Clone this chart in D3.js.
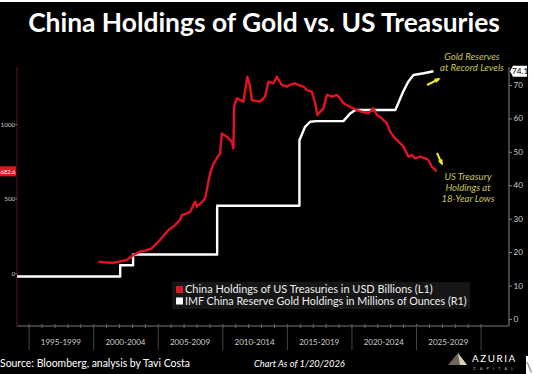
<!DOCTYPE html>
<html><head><meta charset="utf-8">
<script src="https://cdn.jsdelivr.net/npm/d3@7"></script>
<style>
html,body{margin:0;padding:0;background:#fff;}
svg{display:block;}
text{font-family:Lato, "Open Sans", sans-serif;}
</style></head>
<body>
<svg id="c" width="533" height="374"></svg>
<script>
// ---- data ----
const categories = ["1995-1999","2000-2004","2005-2009","2010-2014","2015-2019","2020-2024","2025-2029"];
const categoryStarts = [1995,2000,2005,2010,2015,2020,2025];
const leftTicks = [0,500,1000];
const rightTicks = [0,10,20,30,40,50,60,70];

// China holdings of US Treasuries, USD billions (left axis)
const treasuryDates = [2000.40,2001.00,2001.57,2002.10,2002.60,2003.12,2003.63,2004.10,2004.54,2005.05,2005.45,2005.83,2006.30,2006.73,2006.86,2007.20,2007.51,2007.89,2008.02,2008.35,2008.67,2009.05,2009.30,2009.57,2009.83,2009.96,2010.35,2010.73,2010.86,2010.91,2011.12,2011.40,2011.63,2011.94,2012.15,2012.28,2012.60,2012.93,2013.31,2013.57,2013.96,2014.22,2014.61,2014.99,2015.30,2015.64,2015.89,2016.28,2016.54,2016.93,2017.19,2017.36,2017.57,2017.83,2018.09,2018.48,2018.87,2019.12,2019.38,2019.90,2020.41,2020.80,2021.31,2021.70,2021.96,2022.35,2022.74,2022.99,2023.38,2023.77,2024.02,2024.41,2024.67,2024.93,2025.31,2025.70,2025.95,2026.22,2026.60];
const treasuryValues = [76,70,69,78,87,121,143,152,166,210,250,289,318,356,389,398,411,479,445,470,501,669,730,770,803,937,915,881,837,1116,1172,1160,1150,1317,1253,1161,1155,1150,1184,1284,1273,1317,1262,1251,1265,1273,1262,1251,1228,1217,1139,1060,1082,1105,1195,1184,1195,1172,1139,1116,1094,1082,1071,1105,1060,1038,1004,949,904,871,848,781,792,770,781,770,758,714,682.6];

// IMF China reserve gold holdings, million ounces (right axis)
const goldDates = [1994.1,2002.09,2002.09,2003.09,2003.09,2009.60,2009.60,2015.97,2015.97,2016.41,2016.80,2017.30,2019.38,2019.90,2020.30,2023.40,2024.00,2024.40,2024.80,2025.60,2026.35];
const goldValues = [12.7,12.7,16.1,16.1,19.3,19.3,33.9,33.9,53.5,57.5,59.0,59.2,59.2,61.5,62.5,62.5,68.0,71.0,73.0,73.5,74.1];

const legendLabels = ["China Holdings of US Treasuries in USD Billions (L1)","IMF China Reserve Gold Holdings in Millions of Ounces (R1)"];
const lastTreasury = "682.6";
const lastGold = "74.1";

// ---- drawing ----
const svg = d3.select("#c");
const RED = "#e3131f";
svg.append("rect").attr("x",0).attr("y",2).attr("width",528).attr("height",372).attr("fill","#000");
svg.append("rect").attr("x",526).attr("y",356).attr("width",7).attr("height",18).attr("fill","#fff");

const plot = {l:17, r:509, t:67, b:326};
const x = d3.scaleLinear().domain([1994.1,2032.2]).range([plot.l,plot.r]);
const yL = d3.scaleLinear().domain([0,1000]).range([273,124]);
const yR = d3.scaleLinear().domain([0,70]).range([319,85]);

function fit(sel, target){
  const fs = +sel.attr("font-size");
  const w = sel.node().getComputedTextLength();
  sel.attr("font-size", fs*target/w);
}

// title
const title = svg.append("text").attr("x",264).attr("y",32).attr("text-anchor","middle")
  .attr("fill","#fff").attr("font-weight","bold").attr("font-size",27)
  .text("China Holdings of Gold vs. US Treasuries");
fit(title,472);

// x axis
const xMinor = d3.axisBottom(x).tickValues(d3.range(1995,2031)).tickSize(2).tickFormat("");
const gxm = svg.append("g").attr("transform",`translate(0,${plot.b})`).call(xMinor);
gxm.select(".domain").attr("stroke","#777").attr("d",`M${plot.l},0H${plot.r}`);
gxm.selectAll(".tick line").attr("stroke","#666").attr("y1",-2).attr("y2",2);
const xMajor = d3.axisBottom(x).tickValues(d3.range(1995,2031,5)).tickSize(24).tickFormat("");
const gx = svg.append("g").attr("transform",`translate(0,${plot.b})`).call(xMajor);
gx.select(".domain").remove();
gx.selectAll(".tick line").attr("stroke","#444");
svg.append("g").selectAll("text").data(categories).join("text")
  .attr("x",(d,i)=>x(categoryStarts[i]+2.5)).attr("y",345)
  .attr("text-anchor","middle").attr("fill","#cfcfcf").attr("font-size",8)
  .text(d=>d);

// left axis
const yAxL = d3.axisLeft(yL).tickValues(leftTicks).tickFormat(d3.format("d")).tickSize(1.5).tickPadding(0.3);
const gl = svg.append("g").attr("transform",`translate(${plot.l},0)`).call(yAxL);
gl.select(".domain").attr("stroke","#5a1a1a").attr("d",`M0,${plot.t}V${plot.b}`);
gl.selectAll(".tick line").attr("stroke","#777");
gl.selectAll(".tick text").attr("fill","#cfcfcf").attr("font-size",6.3).attr("font-family","Lato, sans-serif");

// right axis
const yAxR = d3.axisRight(yR).tickValues(rightTicks).tickSize(3).tickPadding(1.5);
const gr = svg.append("g").attr("transform",`translate(${plot.r},0)`).call(yAxR);
gr.select(".domain").attr("stroke","#888").attr("d",`M0,${plot.t}V${plot.b}`);
gr.selectAll(".tick line").attr("stroke","#888");
gr.selectAll(".tick text").attr("fill","#cfcfcf").attr("font-size",8).attr("font-family","Lato, sans-serif");

// lines
const goldData = goldDates.map((d,i)=>[d,goldValues[i]]);
const tData = treasuryDates.map((d,i)=>[d,treasuryValues[i]]);
svg.append("path").datum(goldData).attr("fill","none").attr("stroke","#fff").attr("stroke-width",2.4)
  .attr("stroke-linejoin","round")
  .attr("d",d3.line().x(d=>x(d[0])).y(d=>yR(d[1])));
svg.append("path").datum(tData).attr("fill","none").attr("stroke",RED).attr("stroke-width",2.4)
  .attr("stroke-linejoin","round")
  .attr("d",d3.line().x(d=>x(d[0])).y(d=>yL(d[1])));

// last value labels
const ly = yL(+lastTreasury);
svg.append("rect").attr("x",-2).attr("y",ly-5).attr("width",18).attr("height",10).attr("fill",RED);
const lt = svg.append("text").attr("x",15.5).attr("y",ly+2.6).attr("text-anchor","end").attr("fill","#fff")
  .attr("font-size",8).text(lastTreasury);
fit(lt,15);
const ry = yR(+lastGold);
svg.append("path").attr("d",`M${plot.r+1},${ry}L${plot.r+4},${ry-5.5}H527V${ry+5.5}H${plot.r+4}Z`).attr("fill","#fff");
svg.append("text").attr("x",512).attr("y",ry+3).attr("fill","#000").attr("font-size",8.2).text(lastGold);

// legend
svg.append("rect").attr("x",172).attr("y",282).attr("width",298).attr("height",27).attr("fill","#161616");
const lg = svg.append("g");
[RED,"#fff"].forEach((c,i)=>{
  lg.append("rect").attr("x",176).attr("y",286+i*11.5).attr("width",7).attr("height",7).attr("fill",c);
  const t = lg.append("text").attr("x",185).attr("y",293+i*11.5).attr("fill","#eee").attr("font-size",10.5)
    .text(legendLabels[i]);
  fit(t, i===0 ? 248 : 282);
});

// annotations
const ANN = "#c9c45a";
const ann1 = ["Gold Reserves","at Record Levels"];
const ann2 = ["US Treasury","Holdings at","18-Year Lows"];
svg.append("g").selectAll("text").data(ann1).join("text")
  .attr("x",472).attr("y",(d,i)=>60+i*11).attr("text-anchor","middle").attr("fill",ANN)
  .attr("font-size",9.6).attr("font-style","italic").text(d=>d);
svg.append("g").selectAll("text").data(ann2).join("text")
  .attr("x",468).attr("y",(d,i)=>180+i*11).attr("text-anchor","middle").attr("fill",ANN)
  .attr("font-size",9.6).attr("font-style","italic").text(d=>d);
const YEL = "#f0ea2a";
function arrow(x1,y1,x2,y2){
  svg.append("line").attr("x1",x1).attr("y1",y1).attr("x2",x2).attr("y2",y2)
    .attr("stroke",YEL).attr("stroke-width",2);
  const a = Math.atan2(y2-y1,x2-x1), L=5, s=0.5;
  svg.append("path").attr("fill",YEL).attr("d",
    `M${x2+2*Math.cos(a)},${y2+2*Math.sin(a)}L${x2-L*Math.cos(a-s)},${y2-L*Math.sin(a-s)}L${x2-L*Math.cos(a+s)},${y2-L*Math.sin(a+s)}Z`);
}
arrow(427,85,439,79);
arrow(437,153,442,164);

// footer
const src = svg.append("text").attr("x",0).attr("y",367).attr("fill","#fff").attr("font-size",11.5)
  .text("Source: Bloomberg, analysis by Tavi Costa");
fit(src,190);
const asof = svg.append("text").attr("x",254).attr("y",367).attr("fill","#fff").attr("font-size",10.5)
  .attr("font-style","italic").text("Chart As of 1/20/2026");
fit(asof,91);
// logo
svg.append("path").attr("d","M448,365L458,353L467,365Z").attr("fill","#6e6658");
svg.append("path").attr("d","M458,353L467,365L460,365Z").attr("fill","#d8cdb8");
svg.append("text").attr("x",472).attr("y",362).attr("fill","#fff").attr("font-size",9.8)
  .attr("letter-spacing",1.6).text("AZURIA");
svg.append("text").attr("x",473).attr("y",369.5).attr("fill","#bbb").attr("font-size",3.8)
  .attr("letter-spacing",4.2).text("CAPITAL");
svg.append("text").attr("x",526).attr("y",372).attr("fill","#666").attr("font-size",14).text("\\");
</script>
</body></html>
